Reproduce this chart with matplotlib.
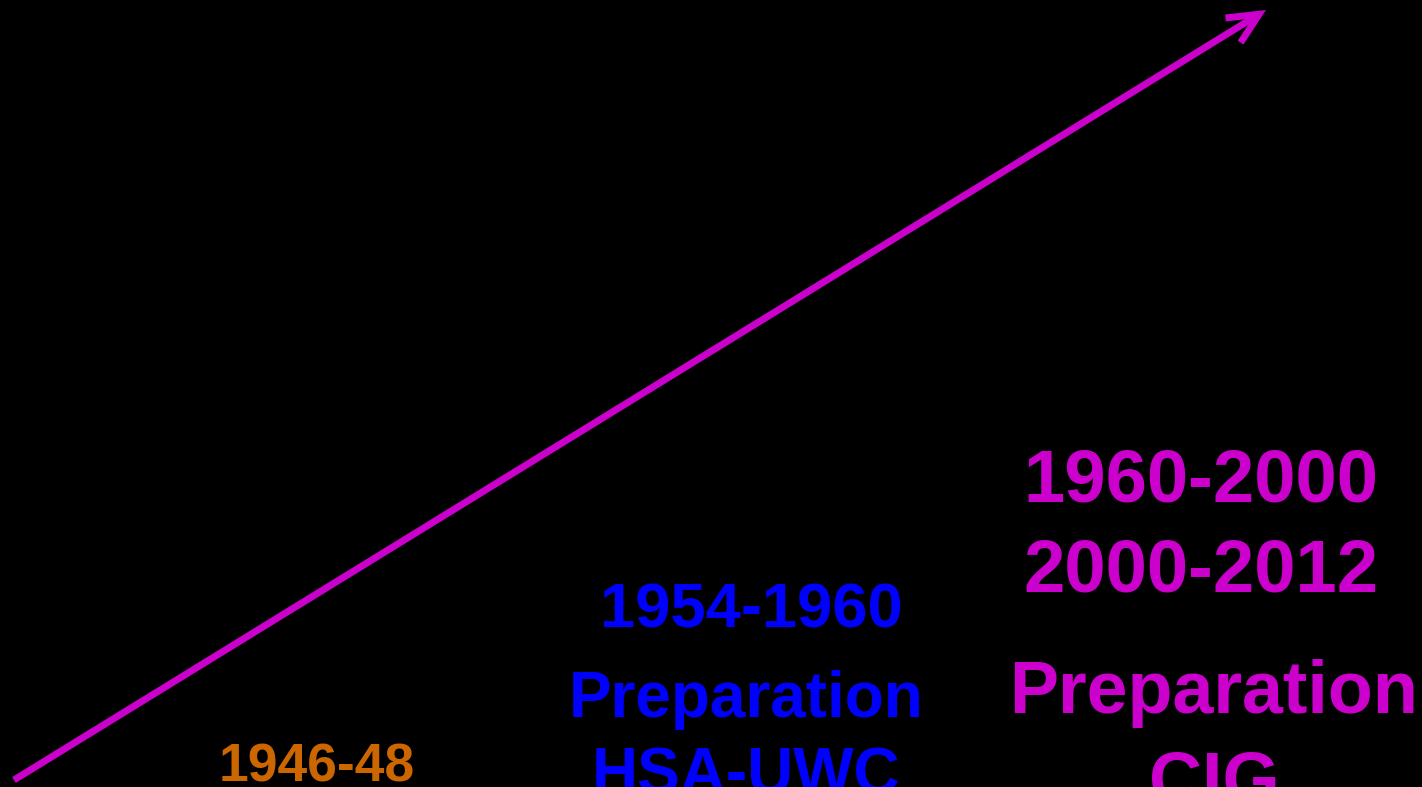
import matplotlib
matplotlib.use("Agg")
import matplotlib.pyplot as plt

W, H = 1422, 787

# arrow from bottom-left to top-right (pixel coordinates)
arrow_start = (14, 780)
arrow_end = (1266, 10)
arrow_color = "#CC00CC"

# text labels: (text, x centre, baseline y, size in pt, colour)
labels = [
    ("1946-48", 317, 782, 38.5, "#CC6600"),
    ("1954-1960", 751, 627, 45.5, "#0000FF"),
    ("Preparation", 746, 717, 46, "#0000FF"),
    ("HSA-UWC", 746, 794, 46, "#0000FF"),
    ("1960-2000", 1201, 502, 53.5, "#CC00CC"),
    ("2000-2012", 1201, 591, 53.5, "#CC00CC"),
    ("Preparation", 1214, 713, 53, "#CC00CC"),
    ("CIG", 1214, 803, 53, "#CC00CC"),
]

fig = plt.figure(figsize=(W / 100, H / 100), dpi=100, facecolor="black")
ax = fig.add_axes([0, 0, 1, 1])
ax.set_facecolor("black")
ax.set_xlim(0, W)
ax.set_ylim(H, 0)
ax.axis("off")

ax.annotate(
    "",
    xy=arrow_end,
    xytext=arrow_start,
    arrowprops=dict(
        arrowstyle="->,head_length=2.2,head_width=1.04",
        color=arrow_color,
        lw=5,
        shrinkA=0,
        shrinkB=0,
        mutation_scale=10,
        capstyle="butt",
        joinstyle="miter",
    ),
)

for txt, x, y, size, col in labels:
    ax.text(
        x, y, txt,
        ha="center", va="baseline",
        fontsize=size, fontweight="bold", color=col,
        family=["Liberation Sans", "DejaVu Sans"],
    )

fig.savefig("out.png", dpi=100, facecolor="black")
